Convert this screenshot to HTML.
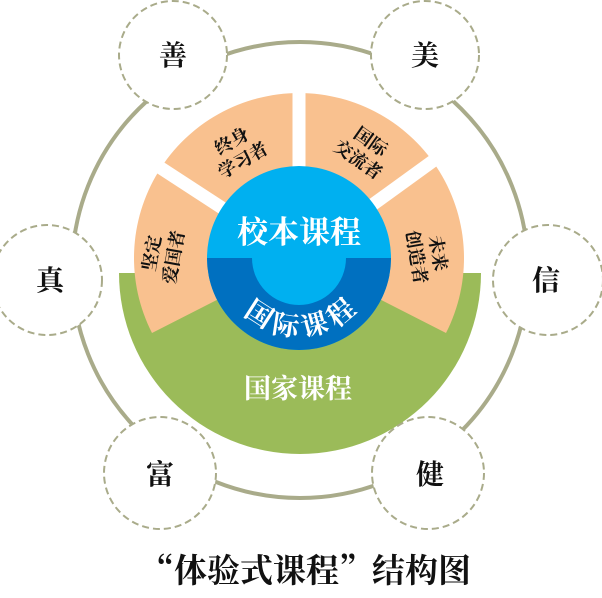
<!DOCTYPE html>
<html><head><meta charset="utf-8"><style>
html,body{margin:0;padding:0;background:#fff;width:602px;height:598px;overflow:hidden}
svg{display:block}
text{font-family:"Liberation Serif","Noto Serif CJK SC",serif;font-weight:bold}
</style></head><body>
<svg width="602" height="598" viewBox="0 0 602 598" xmlns="http://www.w3.org/2000/svg">
<circle cx="300" cy="270" r="228" fill="none" stroke="#a9ab8a" stroke-width="4"/>
<path d="M119,273 A181,181 0 0 0 481,273 Z" fill="#9bbb59"/>
<path d="M299,258 L152,333 A165,165 0 1 1 446,333 Z" fill="#f9c18f"/>
<g stroke="#fff" stroke-width="13">
<line x1="299" y1="258" x2="130" y2="148"/>
<line x1="299" y1="258" x2="299" y2="80"/>
<line x1="299" y1="258" x2="455" y2="145"/>
</g>
<circle cx="299" cy="258" r="92" fill="#00b0f0"/>
<path d="M207,258 A92,92 0 0 0 391,258 L346,258 A47,47 0 0 1 252,258 Z" fill="#0070c0"/>
<text x="299" y="243" font-size="31" fill="#fff" text-anchor="middle">校本课程</text>
<path id="arc" d="M221,258 A78,78 0 0 0 377,258" fill="none"/>
<text font-size="27" fill="#fff" letter-spacing="6"><textPath href="#arc" startOffset="52%" text-anchor="middle">国际课程</textPath></text>
<text x="298" y="398" font-size="27" fill="#fff" text-anchor="middle">国家课程</text>
<g font-size="18" fill="#111" text-anchor="middle">
<g transform="translate(237,150) rotate(-30)"><text x="0" y="-4">终身</text><text x="0" y="18">学习者</text></g>
<g transform="translate(365,150) rotate(35)"><text x="0" y="-4">国际</text><text x="0" y="18">交流者</text></g>
<g transform="translate(162,255) rotate(-80)"><text x="0" y="-4">坚定</text><text x="0" y="18">爱国者</text></g>
<g transform="translate(428,255) rotate(80)"><text x="0" y="-4">未来</text><text x="0" y="18">创造者</text></g>
</g>
<g fill="#fff" stroke="#a9ab8a" stroke-width="2" stroke-dasharray="7,4">
<circle cx="173" cy="55" r="54"/>
<circle cx="425" cy="55" r="54"/>
<circle cx="47" cy="280" r="55"/>
<circle cx="548" cy="280" r="55"/>
<circle cx="160" cy="473" r="56"/>
<circle cx="428" cy="473" r="56"/>
</g>
<g font-size="28" fill="#111" text-anchor="middle">
<text x="173" y="65">善</text>
<text x="425" y="65">美</text>
<text x="50" y="290">真</text>
<text x="546" y="290">信</text>
<text x="160" y="484">富</text>
<text x="430" y="484">健</text>
</g>
<text x="306" y="582" font-size="33" fill="#111" text-anchor="middle" style="font-family:'Noto Serif CJK SC',serif">“体验式课程”结构图</text>
</svg>
</body></html>
